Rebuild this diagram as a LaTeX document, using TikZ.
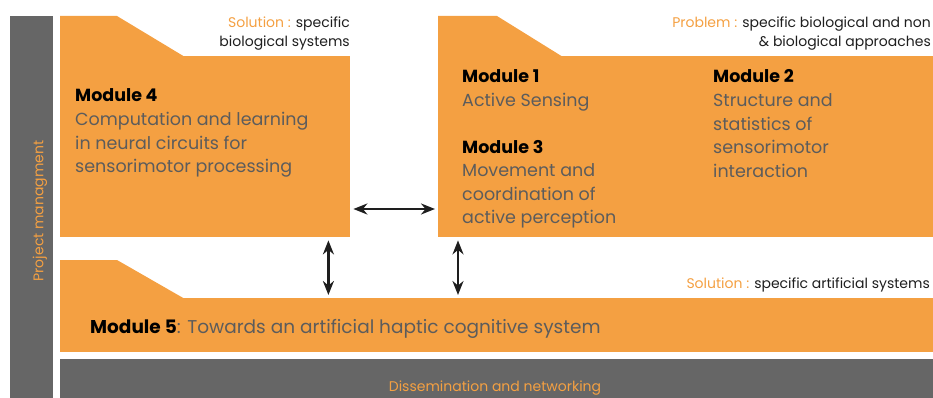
\documentclass[tikz,border=0pt]{standalone}
\usepackage{fontspec}
\setmainfont{Poppins}
\usetikzlibrary{arrows.meta,positioning}

\definecolor{modorange}{RGB}{244,160,66}
\definecolor{bargray}{RGB}{102,102,102}
\definecolor{desctext}{RGB}{92,92,92}
\definecolor{tagtext}{RGB}{30,30,30}
\definecolor{arrowdark}{RGB}{30,30,30}

\tikzset{
  modbody/.style={fill=modorange, inner sep=0pt, anchor=north west},
  % base of a multi-line node sits on its last line
  modtext/.style={anchor=base west, inner sep=0pt, align=left, text=desctext,
    font=\fontsize{17.5}{23.5}\selectfont},
  tag/.style={anchor=base east, inner sep=0pt, align=right, text=tagtext,
    font=\fontsize{14}{19}\selectfont},
  framelabel/.style={text=modorange, inner sep=0pt, font=\fontsize{14}{16}\selectfont},
  link/.style={{Stealth[length=14pt,width=11pt]}-{Stealth[length=14pt,width=11pt]},
    line width=2.3pt, draw=arrowdark, shorten <=3pt, shorten >=3pt}
}

\newcommand{\modname}[1]{\textcolor{black}{\textbf{#1}}}

\begin{document}
\begin{tikzpicture}[x=1pt, y=-1pt]
    \useasboundingbox (0,0) rectangle (933,398);

    % grey frame: management on the left, dissemination at the bottom
    \node[modbody, fill=bargray, minimum width=43pt, minimum height=382pt] (mgmt) at (10,16) {};
    \node[modbody, fill=bargray, minimum width=873pt, minimum height=39pt] (diss) at (60,359) {};
    \node[framelabel, rotate=90] (mgmtlabel) at (40,211) {Project managment};
    \node[framelabel, anchor=base] (disslabel) at (495,391) {Dissemination and networking};

    % module bodies
    \node[modbody, minimum width=290pt, minimum height=181pt] (m4) at (60,56) {};
    \node[modbody, minimum width=495pt, minimum height=181pt] (m13) at (438,56) {};
    \node[modbody, minimum width=873pt, minimum height=54pt] (m5) at (60,298) {};

    % slanted tabs on top of each body
    \fill[modorange] ([yshift=-1pt]m4.north west) -- ++(0,-41) -- ++(57,0) -- ++(68,41) -- cycle;
    \fill[modorange] ([yshift=-1pt]m13.north west) -- ++(0,-41) -- ++(59,0) -- ++(66,41) -- cycle;
    \fill[modorange] ([yshift=-1pt]m5.north west) -- ++(0,-39) -- ++(57,0) -- ++(68,39) -- cycle;

    % tags above the bodies
    \node[tag] (tag4) at (350,47) {\textcolor{modorange}{Solution :} specific\\biological systems};
    \node[tag] (tag13) at (931,47) {\textcolor{modorange}{Problem :} specific biological and non\\\& biological approaches};
    \node[tag] (tag5) at (930,288) {\textcolor{modorange}{Solution :} specific artificial systems};

    % module texts
    \node[modtext] (t4) at (75,172.5) {\modname{Module 4}\\Computation and learning\\in neural circuits for\\sensorimotor processing};
    \node[modtext] (t1) at (462,106.5) {\modname{Module 1}\\Active Sensing};
    \node[modtext] (t3) at (462,223.5) {\modname{Module 3}\\Movement and\\coordination of\\active perception};
    \node[modtext] (t2) at (713,177) {\modname{Module 2}\\Structure and\\statistics of\\sensorimotor\\interaction};
    \node[modtext, font=\fontsize{18.5}{23.5}\selectfont] (t5) at (90,333) {\modname{Module 5}: Towards an artificial haptic cognitive system};

    % links between the modules
    \coordinate (hrow) at (0,209);
    \draw[link] (m4.east |- hrow) -- (m13.west |- hrow);
    \draw[link] ([xshift=-22pt]m4.south east) -- ([xshift=-22pt]m4.south east |- m5.north);
    \draw[link] ([xshift=20pt]m13.south west) -- ([xshift=20pt]m13.south west |- m5.north);

\end{tikzpicture}
\end{document}
